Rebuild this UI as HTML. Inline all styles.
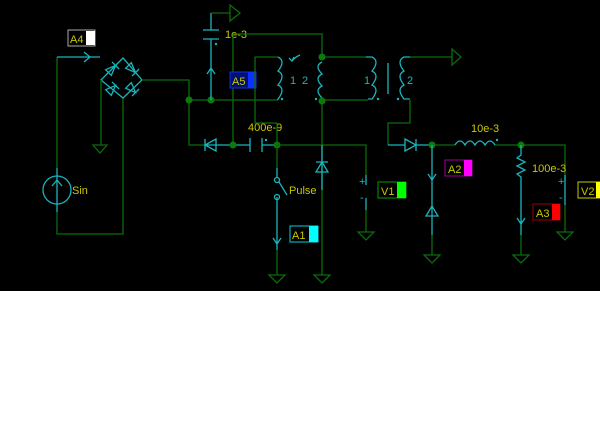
<!DOCTYPE html>
<html><head><style>
html,body{margin:0;padding:0;background:#fff;width:600px;height:443px;overflow:hidden}
svg{display:block}
text{font-family:"Liberation Sans",sans-serif;font-size:11px;fill:#c8c800}
.g{stroke:#0b6b0b;stroke-width:1.3;fill:none}
.c{stroke:#19b5bd;stroke-width:1.3;fill:none}
.n{fill:#0b7a0b}
.ct{fill:#19b5bd;font-size:11px}
</style></head><body>
<svg width="600" height="443" viewBox="0 0 600 443">
<rect x="0" y="0" width="600" height="291" fill="#000"/>
<!-- source loop -->
<path class="g" d="M57 57V168M57 212V234H123V98"/>
<path class="c" d="M57 57H100M84 52L90 57L84 62M57 168V212"/>
<circle class="c" cx="57" cy="190" r="14"/>
<path class="c" d="M52 186L57 180L62 186"/>
<text x="72" y="194">Sin</text>
<rect x="68" y="30" width="27" height="16" fill="#000" stroke="#aaa"/>
<rect x="86" y="31" width="9" height="14" fill="#fff"/>
<text x="70" y="43">A4</text>
<!-- bridge -->
<path class="c" d="M123 58L101 80L123 98L142 80Z"/>
<g class="c">
<g transform="translate(112,69) rotate(-45)"><path d="M-5 -4L5 0L-5 4Z M5 -5V5"/></g>
<g transform="translate(132,69) rotate(45)"><path d="M-5 -4L5 0L-5 4Z M5 -5V5"/></g>
<g transform="translate(112,89) rotate(-45)"><path d="M-5 -4L5 0L-5 4Z M5 -5V5"/></g>
<g transform="translate(132,89) rotate(45)"><path d="M-5 -4L5 0L-5 4Z M5 -5V5"/></g>
</g>
<path class="g" d="M101 80V145M142 80H189V100M189 100H278M189 100V145H205"/>
<path class="g" d="M93 145h14l-7 8z"/>
<circle class="n" cx="189" cy="100" r="3.5"/>
<circle class="n" cx="211" cy="100" r="3.5"/>
<!-- 1e-3 cap -->
<path class="c" d="M211 13V30M203 30H219M203 39H219M211 39V100M207 74L211 68L215 74"/>
<path class="g" d="M211 13H230M230 5L240 13L230 21Z"/>
<circle cx="216" cy="44" r="1.2" fill="#19b5bd"/>
<text x="225" y="38">1e-3</text>
<path class="g" d="M233 34H322V57M233 34V145"/>
<!-- A5 -->
<rect x="230" y="72" width="26" height="16" fill="#001070" stroke="#1030e0"/>
<rect x="248" y="72" width="8" height="16" fill="#1030ff"/>
<text x="232" y="85">A5</text>
<!-- xfmr1 primary -->
<path class="g" d="M255 57H278M255 57V123H277"/>
<path class="c" d="M278 57h0q8 4 0 14q8 4 0 14q8 4 0 14v1"/>
<text class="ct" x="290" y="84">1</text>
<circle cx="282" cy="99" r="1.2" fill="#19b5bd"/>
<path class="c" d="M300 55q-5 2 -8 6M289 58l3 3l2-4"/>
<!-- xfmr1 secondary -->
<path class="c" d="M322 62q-8 4 0 12q-8 4 0 12q-8 4 0 12"/>
<text class="ct" x="302" y="84">2</text>
<circle cx="316" cy="99" r="1.2" fill="#19b5bd"/>
<path class="g" d="M322 57H366M322 100H368M322 100V275"/>
<circle class="n" cx="322" cy="57" r="3.5"/>
<circle class="n" cx="322" cy="101" r="3.5"/>
<!-- xfmr2 -->
<path class="c" d="M366 57h6q8 4 0 14q8 4 0 14q8 4 0 14h-4M388 63V94M410 57h-6q-8 4 0 14q-8 4 0 14q-8 4 0 14h6"/>
<text class="ct" x="364" y="84">1</text><text class="ct" x="407" y="84">2</text>
<circle cx="378" cy="99" r="1.2" fill="#19b5bd"/><circle cx="398" cy="99" r="1.2" fill="#19b5bd"/>
<path class="g" d="M410 57H452M452 49L461 57L452 65Z"/>
<path class="g" d="M410 100V123H388V145"/>
<!-- secondary output chain -->
<path class="c" d="M388 145H405M405 139V151L416 145ZM416 139V151M416 145H432"/>
<path class="g" d="M432 145H455M495 145H565V182"/>
<path class="c" d="M455 145q5-8 10 0q5-8 10 0q5-8 10 0q5-8 10 0"/>
<circle cx="497" cy="140" r="1.2" fill="#19b5bd"/>
<text x="471" y="132">10e-3</text>
<circle class="n" cx="432" cy="145" r="3.5"/>
<circle class="n" cx="521" cy="145" r="3.5"/>
<!-- x432 branch -->
<path class="c" d="M432 145V235M428 174L432 180L436 174M426 216H438M432 206L426 216H438Z"/>
<path class="g" d="M432 235V255M424 255h16l-8 8z"/>
<rect x="445" y="160" width="27" height="16" fill="#000" stroke="#a000a0"/>
<rect x="464" y="160" width="8" height="16" fill="#ff00ff"/>
<text x="448" y="173">A2</text>
<!-- x520 branch -->
<path class="c" d="M521 145V155l-4 3l8 4l-8 4l8 4l-8 4l4 3V235M517 218L521 224L525 218"/>
<path class="g" d="M521 235V255M513 255h16l-8 8z"/>
<text x="532" y="172">100e-3</text>
<rect x="533" y="204" width="27" height="16" fill="#000" stroke="#a00000"/>
<rect x="552" y="204" width="8" height="16" fill="#ff0000"/>
<text x="536" y="217">A3</text>
<!-- V2 -->
<path class="c" d="M565 175V205"/>
<text class="ct" x="558" y="185">+</text><text class="ct" x="559" y="201">-</text>
<path class="g" d="M565 205V232M557 232h16l-8 8z"/>
<rect x="578" y="182" width="22" height="16" fill="#000" stroke="#c8c800"/>
<rect x="596" y="182" width="4" height="16" fill="#ffff00"/>
<text x="581" y="195">V2</text>
<!-- left diode / cap row -->
<path class="c" d="M205 145H216M216 139V151L205 145ZM205 139V151M216 145H233"/>
<path class="c" d="M233 145H250M250 138V152M262 138V152M262 145H277"/>
<circle cx="266" cy="140" r="1.2" fill="#19b5bd"/>
<text x="248" y="131">400e-9</text>
<circle class="n" cx="233" cy="145" r="3.5"/>
<circle class="n" cx="277" cy="145" r="3.5"/>
<path class="g" d="M277 123V145M277 145H366V175"/>
<!-- switch -->
<path class="g" d="M277 145V168"/>
<path class="c" d="M277 168V178M277 197V250M279 182L287 195M273 238L277 244L281 238"/>
<circle class="c" cx="277" cy="180" r="2.5"/>
<circle class="c" cx="277" cy="197" r="2.5"/>
<text x="289" y="194">Pulse</text>
<path class="g" d="M277 250V275M269 275h16l-8 8z"/>
<path class="g" d="M314 275h16l-8 8z"/>
<rect x="290" y="226" width="28" height="16" fill="#000" stroke="#00d0e0"/>
<rect x="309" y="226" width="9" height="16" fill="#00ffff"/>
<text x="292" y="239">A1</text>
<!-- diode on x322 -->
<path class="c" d="M322 145V190M316 172H328L322 162Z M316 162H328"/>
<!-- V1 -->
<path class="c" d="M366 175V185M366 198V210"/>
<text class="ct" x="359" y="185">+</text><text class="ct" x="360" y="201">-</text>
<path class="g" d="M366 210V232M358 232h16l-8 8z"/>
<rect x="378" y="182" width="28" height="16" fill="#000" stroke="#00a000"/>
<rect x="397" y="182" width="9" height="16" fill="#00ff00"/>
<text x="381" y="195">V1</text>
</svg>
</body></html>
